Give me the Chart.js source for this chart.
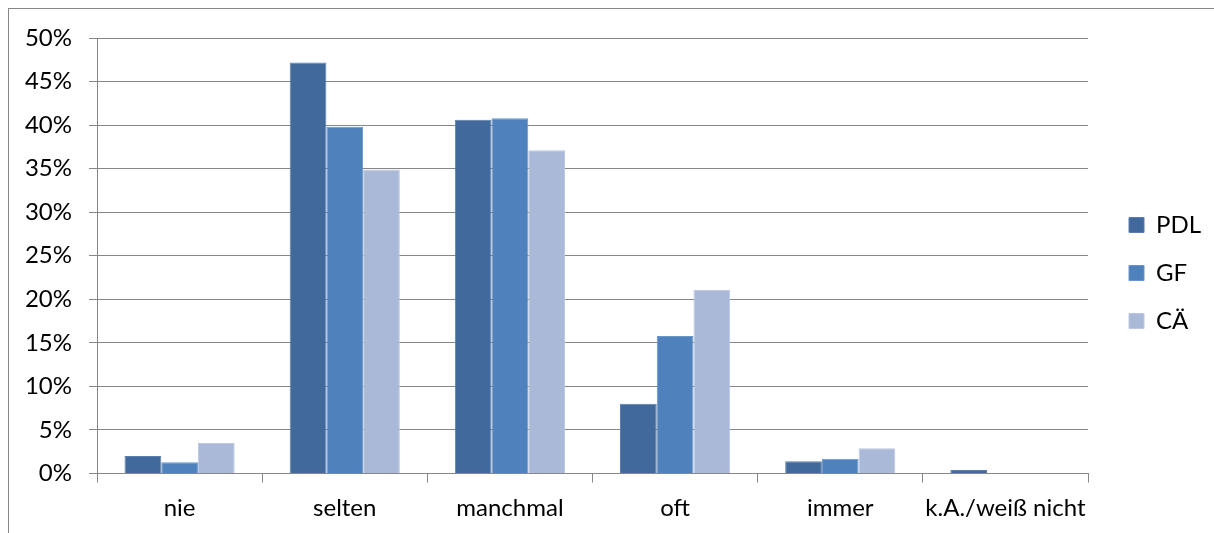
<!DOCTYPE html>
<html lang="de">
<head>
<meta charset="utf-8">
<title>Häufigkeit</title>
<script src="https://cdn.jsdelivr.net/npm/chart.js@4/dist/chart.umd.min.js"></script>
<style>
  html, body { margin: 0; padding: 0; background: #ffffff; }
  #wrap { position: relative; width: 1214px; height: 533px; overflow: hidden; }
  #frame {
    position: absolute; left: 8px; top: 8px; width: 1220px; height: 540px;
    border-left: 1px solid #878787; border-top: 1px solid #878787;
  }
  #chart { position: absolute; left: 0; top: 0; }
</style>
</head>
<body>
<div id="wrap">
  <div id="frame"></div>
  <canvas id="chart" width="1214" height="533"></canvas>
</div>
<script>
// Antworthäufigkeit je Berufsgruppe (Anteile in Prozent)
const categories = ['nie', 'selten', 'manchmal', 'oft', 'immer', 'k.A./weiß nicht'];
const seriesNames = ['PDL', 'GF', 'CÄ'];
const valuesPDL = [2.0, 47.2, 40.6, 8.0, 1.4, 0.4];
const valuesGF  = [1.3, 39.8, 40.8, 15.8, 1.7, 0.0];
const valuesCA  = [3.5, 34.9, 37.1, 21.1, 2.9, 0.0];
const yTicks = [0, 5, 10, 15, 20, 25, 30, 35, 40, 45, 50];

const fillColors = ['#41699c', '#4f81bd', '#aab9d7'];
const edgeColors = ['#5a7fae', '#6a95c8', '#bcc8e0'];
const gridColor = '#878787';
const fontFamily = 'Lato, "Open Sans", sans-serif';
const fontSize = 24;

// Plot area spans x 97..1087; legend box column starts at x 1130
const plotRight = 1087;
const legendLeft = 1105;
const legendTop = 189;

// Legend sits a little away from the plot edge, items stacked from a fixed top
const legendPlacement = {
  id: 'legendPlacement',
  afterLayout(chart) {
    const lg = chart.legend;
    if (!lg) return;
    const w = lg.width, h = lg.height;
    lg.left = legendLeft;
    lg.right = lg.left + w;
    lg.top = legendTop;
    lg.bottom = lg.top + h;
  }
};

// Keep the chart area's right edge fixed regardless of the legend's measured width
const plotEdge = {
  id: 'plotEdge',
  beforeLayout(chart) {
    const lg = chart.legend;
    const w = (lg && lg.width) ? lg.width : 0;
    const pad = chart.options.layout.padding;
    if (w) pad.right = Math.max(0, chart.width - plotRight - w);
  }
};

const seriesValues = [valuesPDL, valuesGF, valuesCA];

new Chart(document.getElementById('chart'), {
  type: 'bar',
  data: {
    labels: categories,
    datasets: seriesNames.map((name, i) => ({
      label: name,
      data: seriesValues[i],
      backgroundColor: fillColors[i],
      borderColor: edgeColors[i],
      borderWidth: 1,
      borderSkipped: 'bottom',
      categoryPercentage: 0.667,
      barPercentage: 1.0
    }))
  },
  options: {
    responsive: false,
    devicePixelRatio: 1,
    animation: false,
    layout: { padding: { top: 38, right: 20, bottom: 0, left: 0 } },
    plugins: {
      tooltip: { enabled: false },
      legend: {
        position: 'right',
        align: 'start',
        labels: {
          boxWidth: 15,
          boxHeight: 15,
          padding: 24,
          color: '#000000',
          font: { family: fontFamily, size: fontSize }
        }
      }
    },
    scales: {
      x: {
        offset: true,
        grid: {
          offset: true,
          drawOnChartArea: false,
          drawTicks: true,
          tickLength: 9,
          color: gridColor,
          lineWidth: 1
        },
        border: { display: true, color: gridColor, width: 1 },
        ticks: {
          color: '#000000',
          padding: 11,
          maxRotation: 0,
          autoSkip: false,
          font: { family: fontFamily, size: fontSize }
        },
        afterFit(scale) { scale.height = 59.5; }
      },
      y: {
        min: 0,
        max: 50,
        afterBuildTicks(scale) { scale.ticks = yTicks.map(v => ({ value: v })); },
        grid: {
          drawTicks: true,
          tickLength: 8,
          color: gridColor,
          lineWidth: 1
        },
        border: { display: true, color: gridColor, width: 1 },
        ticks: {
          color: '#000000',
          padding: 17,
          callback: v => v + '%',
          font: { family: fontFamily, size: fontSize }
        },
        afterFit(scale) { scale.width = 97; }
      }
    }
  },
  plugins: [plotEdge, legendPlacement]
});
</script>
</body>
</html>
